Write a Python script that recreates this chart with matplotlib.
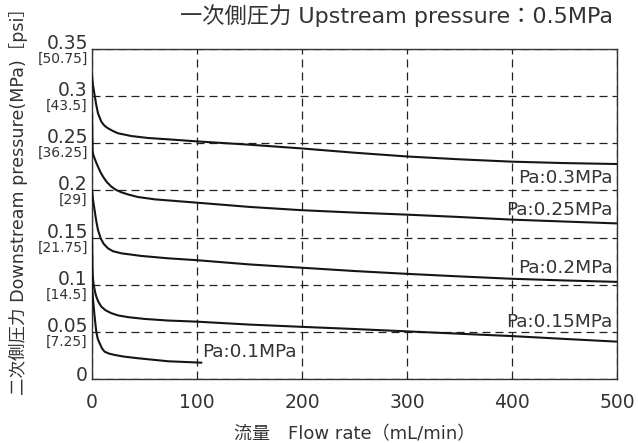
import matplotlib
matplotlib.use("Agg")
import matplotlib.pyplot as plt
import matplotlib.transforms as mtransforms

plt.rcParams['font.family'] = ['DejaVu Sans', 'Noto Sans CJK JP']

# Flow rate (mL/min) and downstream pressure (MPa) for each set pressure.
flow_03 = [0, 1, 2.5, 4, 5.7, 8.9, 12, 15.2, 20, 24.8, 37.4, 53.3, 72.4, 100,
           150, 200, 250, 300, 350, 400, 450, 500]
pres_03 = [0.321, 0.311, 0.301, 0.291, 0.2818, 0.2729, 0.2685, 0.2659, 0.263, 0.2606,
           0.2577, 0.2556, 0.2542, 0.252, 0.2485, 0.2445, 0.240, 0.236, 0.233, 0.2305,
           0.229, 0.228]

flow_025 = [0, 0.3, 0.6, 1.2, 2.5, 4, 5.7, 8, 10.5, 14, 18.4, 23, 28, 35, 43.8, 60, 100,
            150, 200, 250, 300, 350, 400, 450, 500]
pres_025 = [0.28, 0.258, 0.242, 0.238, 0.234, 0.2295, 0.2252, 0.2195, 0.2146, 0.209,
            0.204, 0.2005, 0.198, 0.1955, 0.193, 0.1905, 0.187, 0.1825, 0.179, 0.1765,
            0.1743, 0.1718, 0.169, 0.167, 0.165]

flow_02 = [0, 1, 2.5, 4, 5.7, 8.3, 11, 15.2, 20, 28, 47, 72.4, 100, 150, 200, 250, 300,
           350, 400, 450, 500]
pres_02 = [0.2, 0.19, 0.1787, 0.168, 0.158, 0.1492, 0.1435, 0.1386, 0.1355, 0.1333,
           0.1305, 0.128, 0.126, 0.1215, 0.118, 0.1145, 0.1115, 0.1088, 0.1063, 0.1045,
           0.103]

flow_015 = [0, 0.3, 0.6, 1.2, 1.9, 3, 4.1, 6, 8.9, 13, 18.4, 25, 34.3, 50, 72.4, 100,
            150, 200, 250, 300, 350, 400, 450, 500]
pres_015 = [0.151, 0.13, 0.112, 0.103, 0.098, 0.092, 0.0873, 0.082, 0.0767, 0.0728,
            0.0698, 0.0674, 0.0656, 0.0637, 0.062, 0.0608, 0.0577, 0.0553, 0.053, 0.0505,
            0.048, 0.0455, 0.0425, 0.0396]

flow_01 = [0, 1, 2.5, 4.1, 5.5, 7.3, 9.5, 12, 16, 21.6, 30, 43.8, 72.4, 100, 104]
pres_01 = [0.1, 0.084, 0.066, 0.05, 0.0425, 0.0379, 0.0325, 0.029, 0.027, 0.0255,
           0.0238, 0.022, 0.0188, 0.0175, 0.0173]

series_labels = ["Pa:0.3MPa", "Pa:0.25MPa", "Pa:0.2MPa", "Pa:0.15MPa", "Pa:0.1MPa"]

x_ticks = [0, 100, 200, 300, 400, 500]
y_ticks = [0, 0.05, 0.1, 0.15, 0.2, 0.25, 0.3, 0.35]
y_tick_labels = ["0", "0.05", "0.1", "0.15", "0.2", "0.25", "0.3", "0.35"]
psi_labels = ["", "[7.25]", "[14.5]", "[21.75]", "[29]", "[36.25]", "[43.5]", "[50.75]"]

fig = plt.figure(figsize=(6.38, 4.43), dpi=100)
ax = fig.add_axes([0.1442, 0.1445, 0.9671 - 0.1442, 0.8894 - 0.1445])

curves = [(flow_03, pres_03), (flow_025, pres_025), (flow_02, pres_02),
          (flow_015, pres_015), (flow_01, pres_01)]
for fx, py in curves:
    ax.plot(fx, py, color="#151515", lw=1.5, solid_joinstyle="round", zorder=3)

ax.set_xlim(0, 500)
ax.set_ylim(0, 0.35)
ax.set_xticks(x_ticks)
ax.set_yticks(y_ticks)
ax.set_yticklabels([])
ax.tick_params(axis="both", length=0, colors="#333333")
ax.tick_params(axis="x", labelsize=13.5, pad=10)
ax.grid(True, color="#222222", lw=0.9, linestyle=(0, (6.4, 4)))
for s in ax.spines.values():
    s.set_color("#333333")
    s.set_linewidth(1.0)

# y tick labels: MPa above the line, psi below
trans = mtransforms.blended_transform_factory(ax.transAxes, ax.transData)
for v, lab, psi in zip(y_ticks, y_tick_labels, psi_labels):
    if v == 0:
        ax.text(-0.008, 0.004, lab, transform=trans, ha="right", va="center",
                fontsize=13.5, color="#333333")
        continue
    ax.text(-0.008, v, lab, transform=trans, ha="right", va="baseline",
            fontsize=13.5, color="#333333")
    ax.text(-0.008, v - 0.003, psi, transform=trans, ha="right", va="top",
            fontsize=10, color="#333333")

# curve labels
label_pos = [(496, 0.2129, "right"), (496, 0.1793, "right"), (496, 0.1174, "right"),
             (496, 0.0608, "right"), (104.5, 0.029, "left")]
for (lx, ly, ha), lab in zip(label_pos, series_labels):
    ax.text(lx, ly, lab, ha=ha, va="center", fontsize=13.3, color="#333333", zorder=4)

fig.text(0.961, 0.964, "一次側圧力 Upstream pressure：0.5MPa", ha="right", va="center",
         fontsize=16, color="#333333")
ax.set_xlabel("流量　Flow rate（mL/min）", fontsize=13, color="#333333")
ax.xaxis.set_label_coords(0.5, -0.167)
ax.xaxis.label.set_va("center")
ax.set_ylabel("二次側圧力 Downstream pressure(MPa)［psi］", fontsize=12.6, color="#333333")
ax.yaxis.set_label_coords(-0.14, 0.55)
ax.yaxis.label.set_va("center")

fig.savefig("out.png", dpi=100)
